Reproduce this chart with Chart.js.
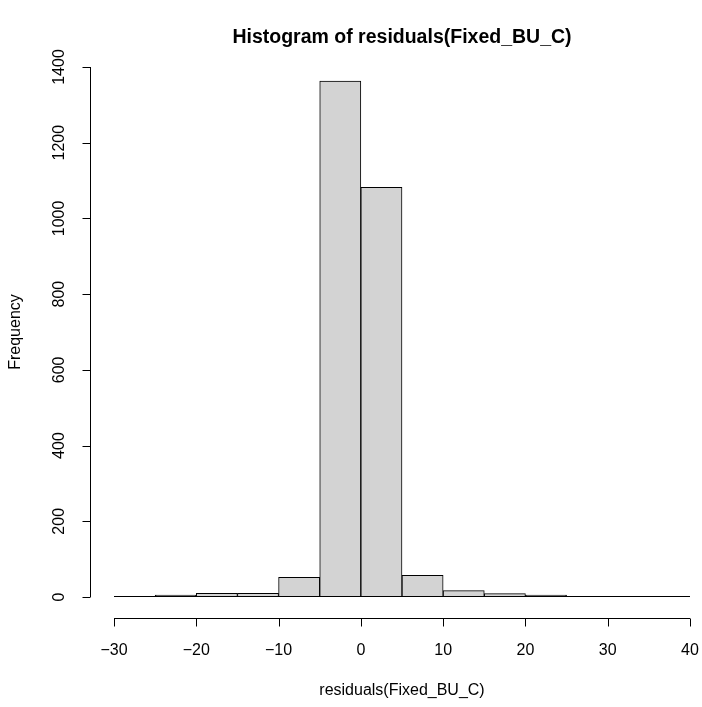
<!DOCTYPE html>
<html>
<head>
<meta charset="utf-8">
<script src="https://cdn.jsdelivr.net/npm/chart.js@4"></script>
<style>
  html, body { margin: 0; padding: 0; background: #fff; }
  #wrap { width: 702px; height: 707px; }
</style>
</head>
<body>
<div id="wrap"><canvas id="hist" width="702" height="707"></canvas></div>
<script>
// Bornes des classes (largeur 5) et effectifs
const binStarts = [-30, -25, -20, -15, -10, -5, 0, 5, 10, 15, 20, 25, 30, 35];
const binWidth = 5;
const counts = [2, 5, 10, 10, 52, 1363, 1082, 57, 17, 9, 5, 2, 0, 1];

// Graduations des axes
const xTicks = [-30, -20, -10, 0, 10, 20, 30, 40];
const yTicks = [0, 200, 400, 600, 800, 1000, 1200, 1400];

const titleText = "Histogram of residuals(Fixed_BU_C)";
const xLabel = "residuals(Fixed_BU_C)";
const yLabel = "Frequency";

const fontFamily = "'Liberation Sans', Arial, Helvetica, sans-serif";

// Axes façon R dessinés à la main, à partir des échelles de Chart.js
const rAxes = {
    id: 'rAxes',
    afterDatasetsDraw(chart) {
        // bord inférieur des rectangles (visible aussi pour les classes vides)
        const ctx = chart.ctx;
        const xs = chart.scales.x;
        const ys = chart.scales.y;
        const base = Math.round(ys.getPixelForValue(0)) - 0.5;
        ctx.save();
        ctx.strokeStyle = '#000';
        ctx.lineWidth = 1;
        ctx.beginPath();
        ctx.moveTo(xs.getPixelForValue(binStarts[0]), base);
        ctx.lineTo(xs.getPixelForValue(binStarts[binStarts.length - 1] + binWidth), base);
        ctx.stroke();
        ctx.restore();
    },
    afterDraw(chart) {
        const ctx = chart.ctx;
        const xs = chart.scales.x;
        const ys = chart.scales.y;
        ctx.save();
        ctx.strokeStyle = '#000';
        ctx.fillStyle = '#000';
        ctx.lineWidth = 1;

        // axe des x
        const axisY = 618.5;
        ctx.beginPath();
        ctx.moveTo(xs.getPixelForValue(xTicks[0]), axisY);
        ctx.lineTo(xs.getPixelForValue(xTicks[xTicks.length - 1]), axisY);
        xTicks.forEach(v => {
            const px = Math.round(xs.getPixelForValue(v)) + 0.5;
            ctx.moveTo(px, axisY);
            ctx.lineTo(px, axisY + 8);
        });
        ctx.stroke();
        ctx.font = '16px ' + fontFamily;
        ctx.textAlign = 'center';
        ctx.textBaseline = 'middle';
        xTicks.forEach(v => {
            const txt = v < 0 ? '\u2212' + Math.abs(v) : String(v);
            ctx.fillText(txt, xs.getPixelForValue(v), 651);
        });

        // axe des y
        const axisX = 90.5;
        ctx.beginPath();
        ctx.moveTo(axisX, ys.getPixelForValue(yTicks[0]));
        ctx.lineTo(axisX, ys.getPixelForValue(yTicks[yTicks.length - 1]));
        yTicks.forEach(v => {
            const py = Math.round(ys.getPixelForValue(v)) + 0.5;
            ctx.moveTo(axisX, py);
            ctx.lineTo(axisX - 8, py);
        });
        ctx.stroke();
        yTicks.forEach(v => {
            ctx.save();
            ctx.translate(60, ys.getPixelForValue(v));
            ctx.rotate(-Math.PI / 2);
            ctx.fillText(String(v), 0, 0);
            ctx.restore();
        });

        // titres
        ctx.fillText(xLabel, (xs.left + xs.right) / 2, 691);
        ctx.save();
        ctx.translate(16, 332);
        ctx.rotate(-Math.PI / 2);
        ctx.fillText(yLabel, 0, 0);
        ctx.restore();

        ctx.font = 'bold 19.5px ' + fontFamily;
        ctx.fillText(titleText, (xs.left + xs.right) / 2, 38);
        ctx.restore();
    }
};

const ctx = document.getElementById('hist').getContext('2d');
const histChart = new Chart(ctx, {
    type: 'bar',
    data: {
        datasets: [{
            label: yLabel,
            data: binStarts.map((b, i) => ({ x: b + binWidth / 2, y: counts[i] })),
            backgroundColor: '#D3D3D3',
            borderColor: '#000000',
            borderWidth: 1,
            borderSkipped: false,
            barPercentage: 1,
            categoryPercentage: 1,
        }],
    },
    options: {
        responsive: false,
        animation: false,
        layout: { padding: { left: 114, right: 12, top: 67, bottom: 110 } },
        plugins: {
            legend: { display: false },
            tooltip: { enabled: false },
            title: { display: false },
        },
        scales: {
            x: { type: 'linear', min: -30, max: 40, display: false, offset: false },
            y: { min: 0, max: 1400, display: false },
        },
    },
    plugins: [rAxes],
});
</script>
</body>
</html>
